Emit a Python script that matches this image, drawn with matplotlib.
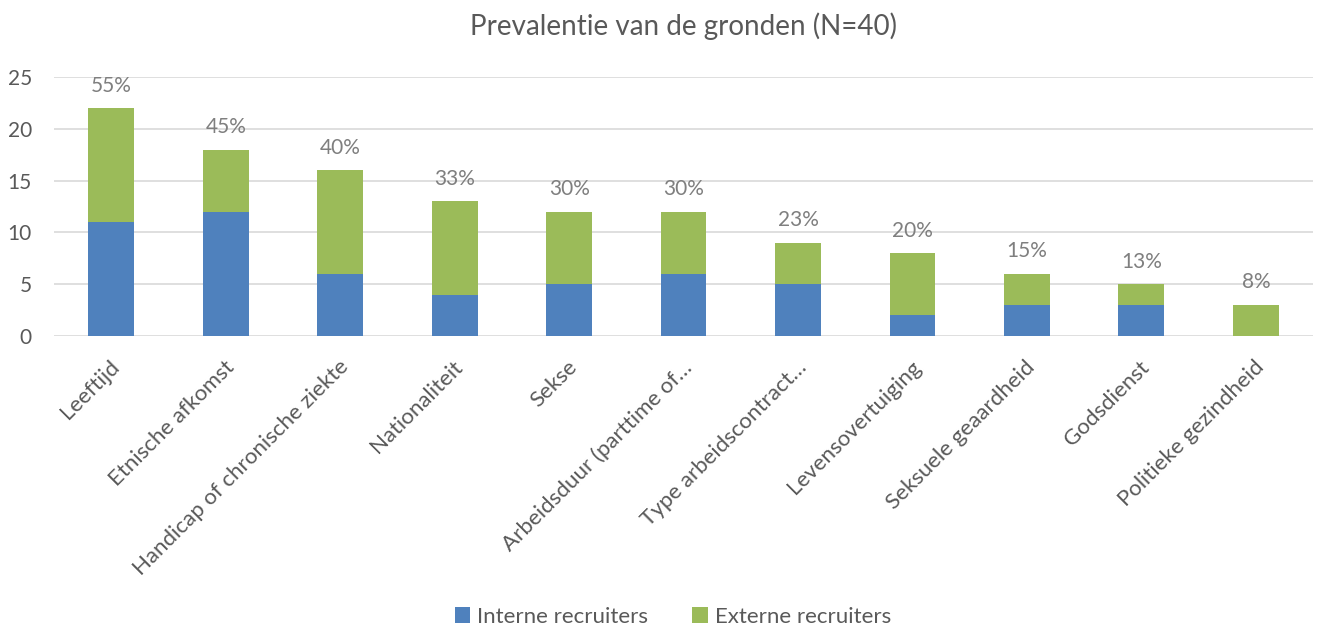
import matplotlib.pyplot as plt
import matplotlib.transforms as mtransforms
import numpy as np

categories = ["Leeftijd", "Etnische afkomst", "Handicap of chronische ziekte",
              "Nationaliteit", "Sekse", "Arbeidsduur (parttime of…",
              "Type arbeidscontract…", "Levensovertuiging", "Seksuele geaardheid",
              "Godsdienst", "Politieke gezindheid"]
interne = [11, 12, 6, 4, 5, 6, 5, 2, 3, 3, 0]
externe = [11, 6, 10, 9, 7, 6, 4, 6, 3, 2, 3]
percent_labels = ["55%", "45%", "40%", "33%", "30%", "30%", "23%", "20%", "15%", "13%", "8%"]

plt.rcParams['font.family'] = ['Lato', 'DejaVu Sans']
grey = '#595959'

fig = plt.figure(figsize=(13.19, 6.31), dpi=100)
ax = fig.add_axes([0.041, 0.4675, 0.9545, 0.4105])

x = np.arange(len(categories))
w = 0.4
ax.bar(x, interne, w, color='#4F81BD', label='Interne recruiters', zorder=3)
ax.bar(x, externe, w, bottom=interne, color='#9BBB59', label='Externe recruiters', zorder=3)

totals = [a + b for a, b in zip(interne, externe)]
for xi, t, lab in zip(x, totals, percent_labels):
    ax.annotate(lab, (xi, t), xytext=(0, 9), textcoords='offset points',
                ha='center', va='bottom', fontsize=15, color='#7f7f7f')

ax.set_xlim(-0.5, len(categories) - 0.5)
ax.set_ylim(0, 25)
ax.set_yticks(range(0, 26, 5))
ax.yaxis.grid(True, color='#d9d9d9', linewidth=1.2, zorder=0)
ax.set_axisbelow(True)
for s in ax.spines.values():
    s.set_visible(False)
ax.tick_params(axis='both', length=0, colors=grey)
ax.tick_params(axis='y', pad=16, labelsize=15)
ax.tick_params(axis='x', labelsize=16, pad=15)
ax.set_xticks(x)
ax.set_xticklabels(categories, rotation=45, ha='right', rotation_mode='anchor')
shift = mtransforms.ScaledTranslation(-0.02, 0, fig.dpi_scale_trans)
for lbl in ax.get_xticklabels():
    lbl.set_transform(lbl.get_transform() + shift)

ax.set_title("Prevalentie van de gronden (N=40)", fontsize=20, color=grey, pad=30)

fig.legend(loc='lower center', bbox_to_anchor=(0.51, -0.025), ncol=2, frameon=False,
           fontsize=16, labelcolor=grey, handlelength=0.7, handleheight=0.7,
           columnspacing=2.0, handletextpad=0.3)

fig.savefig('out.png', dpi=100)
